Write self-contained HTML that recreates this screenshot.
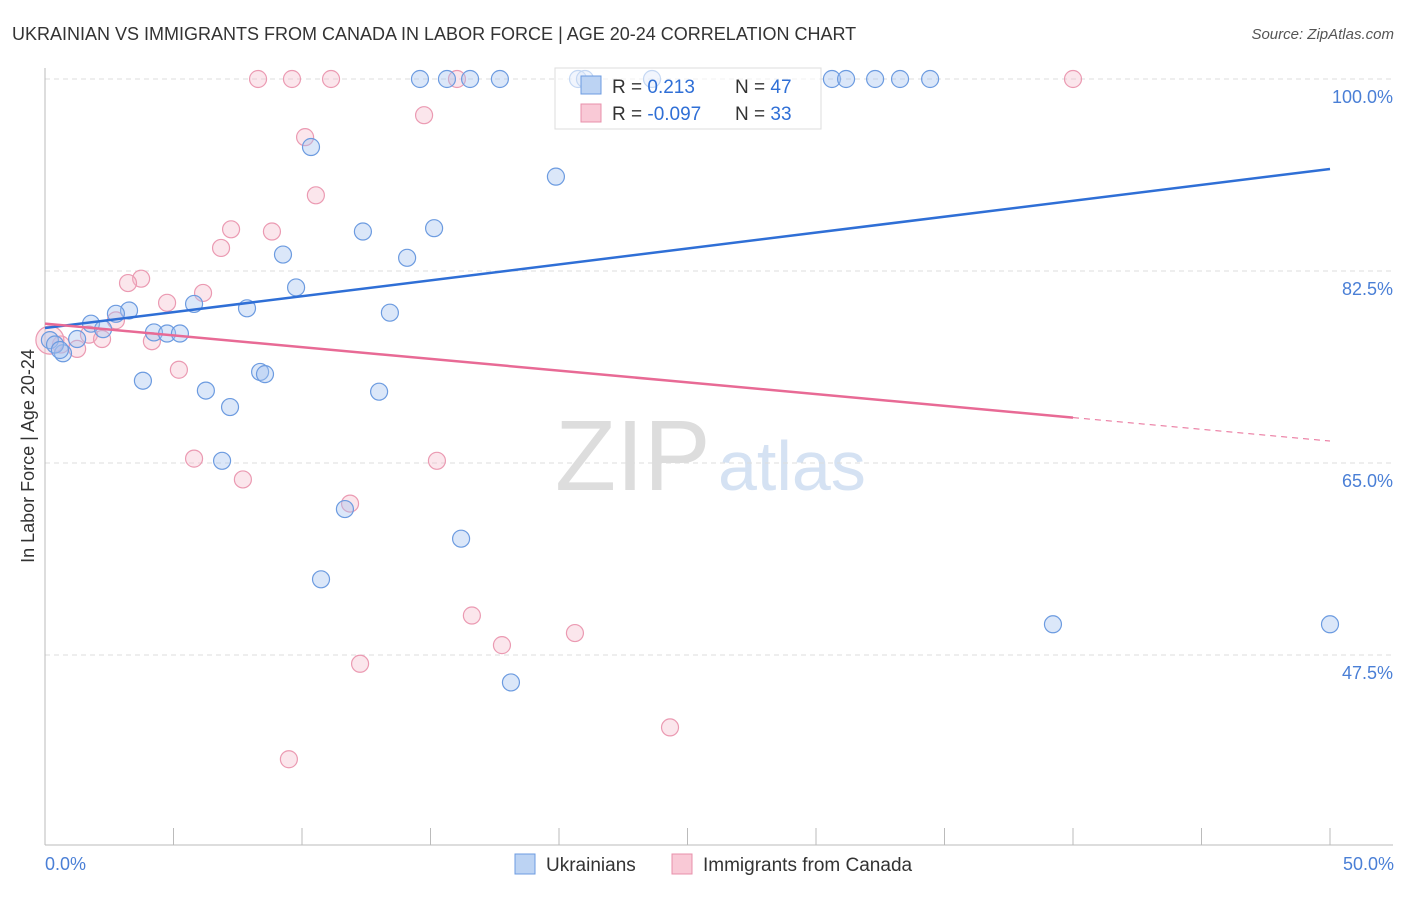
<!DOCTYPE html>
<html><head><meta charset="utf-8"><style>
body{margin:0;background:#fff;font-family:"Liberation Sans",sans-serif}
svg text{font-family:"Liberation Sans",sans-serif}
</style></head><body>
<svg id="c" width="1406" height="892">
<text x="12" y="40" font-size="18" fill="#333">UKRAINIAN VS IMMIGRANTS FROM CANADA IN LABOR FORCE | AGE 20-24 CORRELATION CHART</text>
<text x="1394" y="39" font-size="15" fill="#555" font-style="italic" text-anchor="end">Source: ZipAtlas.com</text>
<text x="555" y="490" font-size="100" fill="#ddd" font-family="Liberation Serif">ZIP</text>
<text x="718" y="490" font-size="70" fill="#d5e2f3">atlas</text>
<g id="grid"></g><g id="pts"></g><g id="lines"></g>
<text transform="translate(34,456) rotate(-90)" font-size="18" fill="#333" text-anchor="middle">In Labor Force | Age 20-24</text>
<text x="45" y="870" font-size="18" fill="#4a7fd6">0.0%</text>
<text x="1394" y="870" font-size="18" fill="#4a7fd6" text-anchor="end">50.0%</text>
<g>
<rect x="555" y="68" width="266" height="61" fill="#fff" fill-opacity="0.6" stroke="#ddd"/>
<rect x="581" y="76" width="20" height="18" fill="#bcd3f3" stroke="#6c9be0"/>
<rect x="581" y="104" width="20" height="18" fill="#f9c9d6" stroke="#e890ab"/>
<text x="612" y="93" font-size="19" fill="#333">R = <tspan fill="#2f6fd6"> 0.213</tspan></text>
<text x="735" y="93" font-size="19" fill="#333">N = <tspan fill="#2f6fd6">47</tspan></text>
<text x="612" y="120" font-size="19" fill="#333">R = <tspan fill="#2f6fd6">-0.097</tspan></text>
<text x="735" y="120" font-size="19" fill="#333">N = <tspan fill="#2f6fd6">33</tspan></text>
</g>
<g>
<rect x="515" y="854" width="20" height="20" fill="#bcd3f3" stroke="#6c9be0"/>
<text x="546" y="871" font-size="19" fill="#333">Ukrainians</text>
<rect x="672" y="854" width="20" height="20" fill="#f9c9d6" stroke="#e890ab"/>
<text x="703" y="871" font-size="19" fill="#333">Immigrants from Canada</text>
</g>
</svg>
<script>
const yTicks=[100,82.5,65,47.5];
const xTicks=[0,5,10,15,20,25,30,35,40,45,50];
const blueX=[14.59,15.64,16.54,17.70,23.62,30.62,31.17,32.30,33.27,34.44,10.35,19.88,12.37,15.14,9.26,14.09,9.77,5.80,7.86,3.27,2.76,13.42,1.79,2.26,4.24,4.75,5.25,1.25,0.70,3.81,8.37,8.56,6.26,13.00,7.20,6.89,11.67,16.19,10.74,39.22,50,18.13,0.19,0.39,20.74,21.01,0.58];
const blueY=[100,100,100,100,100,100,100,100,100,100,93.8,91.1,86.1,86.4,84.0,83.7,81.0,79.5,79.1,78.9,78.6,78.7,77.7,77.2,76.9,76.8,76.8,76.3,75.0,72.5,73.3,73.1,71.6,71.5,70.1,65.2,60.8,58.1,54.4,50.3,50.3,45.0,76.2,75.8,100,100,75.3];
const pinkX=[8.29,9.61,11.13,16.03,40.0,14.75,10.12,10.54,7.24,8.83,6.85,3.74,3.23,6.15,4.75,2.76,1.71,2.22,4.16,0.62,1.25,5.21,5.80,15.25,7.70,11.87,16.61,20.62,17.78,12.26,24.32,9.49,0.19];
const pinkY=[100,100,100,100,100,96.7,94.7,89.4,86.3,86.1,84.6,81.8,81.4,80.5,79.6,78.0,76.7,76.3,76.1,75.8,75.4,73.5,65.4,65.2,63.5,61.3,51.1,49.5,48.4,46.7,40.9,38.0,76.2];
const blueTrend=[77.3,91.8];
const pinkTrend=[77.7,67.0];
const X=v=>45+v*25.7, Y=v=>79+(100-v)*192/17.5;
const NS='http://www.w3.org/2000/svg';
function mk(p,t,a){const e=document.createElementNS(NS,t);for(const k in a)e.setAttribute(k,a[k]);p.appendChild(e);return e;}
const g=document.getElementById('grid');
yTicks.forEach(v=>{
 const l=mk(g,'line',{x1:45,x2:1393,y1:Y(v),y2:Y(v),stroke:'#ddd','stroke-dasharray':'5,4'});
 
 
 const t=mk(g,'text',{x:1393,y:Y(v)+24,'font-size':18,fill:'#4a7fd6','text-anchor':'end'});
 t.textContent=v.toFixed(1)+'%';
 
 
});
xTicks.forEach(v=>{
 const l=mk(g,'line',{x1:X(v),x2:X(v),y1:828,y2:845,stroke:'#bbb'});
 
 
});
mk(g,'line',{x1:45,x2:45,y1:68,y2:845,stroke:'#bbb'});
mk(g,'line',{x1:45,x2:1393,y1:845,y2:845,stroke:'#bbb'});
const p=document.getElementById('pts');
pinkX.forEach((x,i)=>{
 const c=mk(p,'circle',{cx:X(x),cy:Y(pinkY[i]),r:i==pinkX.length-1?14:8.5,fill:'rgba(244,182,200,0.35)',stroke:'#eb9ab2','stroke-width':1.2});
 
 
});
blueX.forEach((x,i)=>{
 const c=mk(p,'circle',{cx:X(x),cy:Y(blueY[i]),r:8.5,fill:'rgba(164,196,240,0.4)',stroke:'#6c9be0','stroke-width':1.2});
 
 
});
const L=document.getElementById('lines');
const b=mk(L,'line',{x1:X(0),y1:Y(blueTrend[0]),x2:X(50),y2:Y(blueTrend[1]),stroke:'#2f6fd6','stroke-width':2.5});


const f=t=>pinkTrend[0]+(pinkTrend[1]-pinkTrend[0])*t;
const s=mk(L,'line',{x1:X(0),y1:Y(pinkTrend[0]),x2:X(40),y2:Y(f(0.8)),stroke:'#e86a95','stroke-width':2.5});


const d=mk(L,'line',{x1:X(40),y1:Y(f(0.8)),x2:X(50),y2:Y(pinkTrend[1]),stroke:'#e86a95','stroke-width':1,'stroke-dasharray':'6,5'});


</script>
</body></html>
